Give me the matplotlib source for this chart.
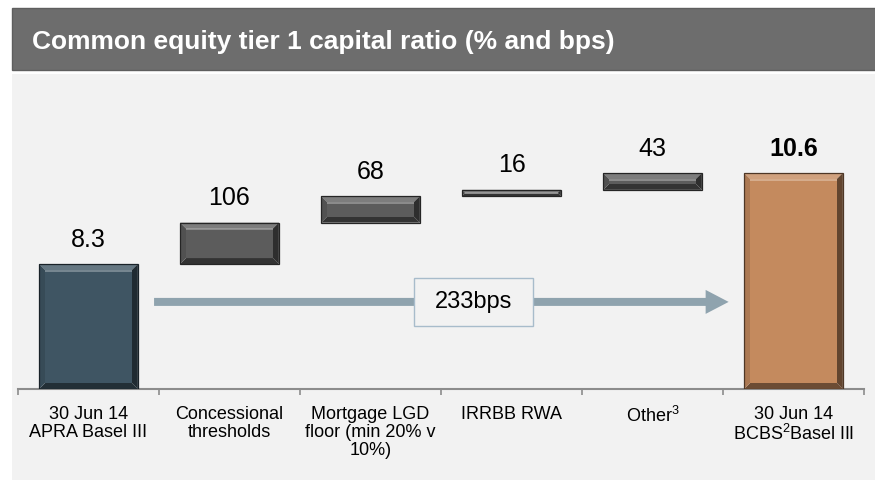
import matplotlib
matplotlib.use("Agg")
import matplotlib.pyplot as plt
from matplotlib.patches import Rectangle, Polygon, FancyArrow
from matplotlib.colors import to_rgb
import numpy as np

plt.rcParams['font.family'] = ['Liberation Sans', 'DejaVu Sans']
plt.rcParams['mathtext.fontset'] = 'custom'
plt.rcParams['mathtext.rm'] = 'Liberation Sans'
plt.rcParams['mathtext.it'] = 'Liberation Sans'

# data
categories = ['30 Jun 14\nAPRA Basel III', 'Concessional\nthresholds',
              'Mortgage LGD\nfloor (min 20% v\n10%)', 'IRRBB RWA',
              'Other$^3$', '30 Jun 14\nBCBS$^2$Basel III']
start_ratio = 8.3
increments_bps = [106, 68, 16, 43]
end_ratio = 10.6
value_labels = ['8.3', '106', '68', '16', '43', '10.6']
total_label = '233bps'

W, H = 875, 480
fig = plt.figure(figsize=(W / 100, H / 100), dpi=100)
fig.patch.set_facecolor('white')

# background panel and title bar
fig.add_artist(Rectangle((12 / W, 0), 1, (H - 74) / H, transform=fig.transFigure,
                         facecolor='#f2f2f2', edgecolor='none', zorder=0))
fig.add_artist(Rectangle((12 / W, (H - 70) / H), 1, 62 / H, transform=fig.transFigure,
                         facecolor='#6d6d6d', edgecolor='#5e5e5e', lw=1, zorder=0))
fig.text(32 / W, (H - 49) / H, 'Common equity tier 1 capital ratio (% and bps)',
         color='white', fontsize=19, fontweight='bold', va='baseline', ha='left')

ax = fig.add_axes([18 / W, (H - 389) / H, 846 / W, 289 / H])
ax.set_facecolor('none')
base = 5.1
ax.set_xlim(0, len(categories))
ax.set_ylim(base, 12.5)

px_x = ax.transData.transform((1, 0))[0] - ax.transData.transform((0, 0))[0]
px_y = ax.transData.transform((0, 1))[1] - ax.transData.transform((0, 0))[1]


def mix(c, other, t):
    c = np.array(to_rgb(c))
    o = np.array(to_rgb(other))
    return tuple(c * (1 - t) + o * t)


def bevel_bar(x0, x1, y0, y1, color, d=6):
    dx = d / px_x
    dy = min(d / px_y, (y1 - y0) / 2.2)
    if (y1 - y0) * px_y < 2 * d:
        dx = dy * px_y / px_x
    ix0, ix1, iy0, iy1 = x0 + dx, x1 - dx, y0 + dy, y1 - dy
    ax.add_patch(Polygon([(x0, y1), (x1, y1), (ix1, iy1), (ix0, iy1)],
                         facecolor=mix(color, 'white', 0.2), edgecolor='none', zorder=3))
    ax.add_patch(Polygon([(x0, y0), (x1, y0), (ix1, iy0), (ix0, iy0)],
                         facecolor=mix(color, 'black', 0.45), edgecolor='none', zorder=3))
    ax.add_patch(Polygon([(x0, y0), (x0, y1), (ix0, iy1), (ix0, iy0)],
                         facecolor=mix(color, 'black', 0.12), edgecolor='none', zorder=3))
    ax.add_patch(Polygon([(x1, y0), (x1, y1), (ix1, iy1), (ix1, iy0)],
                         facecolor=mix(color, 'black', 0.5), edgecolor='none', zorder=3))
    ax.add_patch(Rectangle((ix0, iy0), ix1 - ix0, iy1 - iy0,
                           facecolor=color, edgecolor='none', zorder=3))
    ax.plot([ix0, ix1], [iy1 - dy * 0.1, iy1 - dy * 0.1], color=mix(color, 'white', 0.35),
            lw=1.2, zorder=4, solid_capstyle='butt')
    ax.add_patch(Rectangle((x0, y0), x1 - x0, y1 - y0, facecolor='none',
                           edgecolor=mix(color, 'black', 0.6), lw=0.9, zorder=5))


bw = 0.7
xs = np.arange(len(categories)) + 0.5
bottoms = [base]
tops = [start_ratio]
cum = start_ratio
for inc in increments_bps:
    bottoms.append(cum)
    cum += inc / 100
    tops.append(cum)
bottoms.append(base)
tops.append(cum)

colors = ['#3f5563'] + ['#5c5c5c'] * len(increments_bps) + ['#c48a5e']
for i, (x, b, t) in enumerate(zip(xs, bottoms, tops)):
    bevel_bar(x - bw / 2, x + bw / 2, b, t, colors[i])
    ax.annotate(value_labels[i], (x, t), xytext=(0, 12.5), textcoords='offset points',
                ha='center', va='baseline', fontsize=18,
                fontweight='bold' if i == len(xs) - 1 else 'normal', color='black')

# arrow for the total change
ay = 7.33
ax0, ax1 = 0.965, 5.04
ax.add_patch(FancyArrow(ax0, ay, ax1 - ax0, 0, width=8 / px_y, head_width=24 / px_y,
                        head_length=23 / px_x, length_includes_head=True,
                        facecolor='#8fa3ae', edgecolor='none', zorder=2))
box_w, box_h = 119 / px_x, 48 / px_y
bx = 3.23
ax.add_patch(Rectangle((bx - box_w / 2, ay - box_h / 2), box_w, box_h,
                       facecolor='#f2f2f2', edgecolor='#a8bccb', lw=1, zorder=6))
ax.text(bx, ay, total_label, ha='center', va='center', fontsize=17, zorder=7)

# axes styling
for s in ['top', 'right', 'left']:
    ax.spines[s].set_visible(False)
ax.spines['bottom'].set_color('#8c8c8c')
ax.spines['bottom'].set_linewidth(1.5)
ax.set_yticks([])
ax.set_xticks(xs)
ax.set_xticklabels(categories, fontsize=13, linespacing=1.1)
ax.tick_params(axis='x', which='major', length=0, pad=12)
ax.set_xticks(np.arange(len(categories) + 1), minor=True)
ax.tick_params(axis='x', which='minor', length=4.5, width=1.2, color='#8c8c8c',
               direction='out')

plt.savefig('out.png', dpi=100, facecolor=fig.get_facecolor())
